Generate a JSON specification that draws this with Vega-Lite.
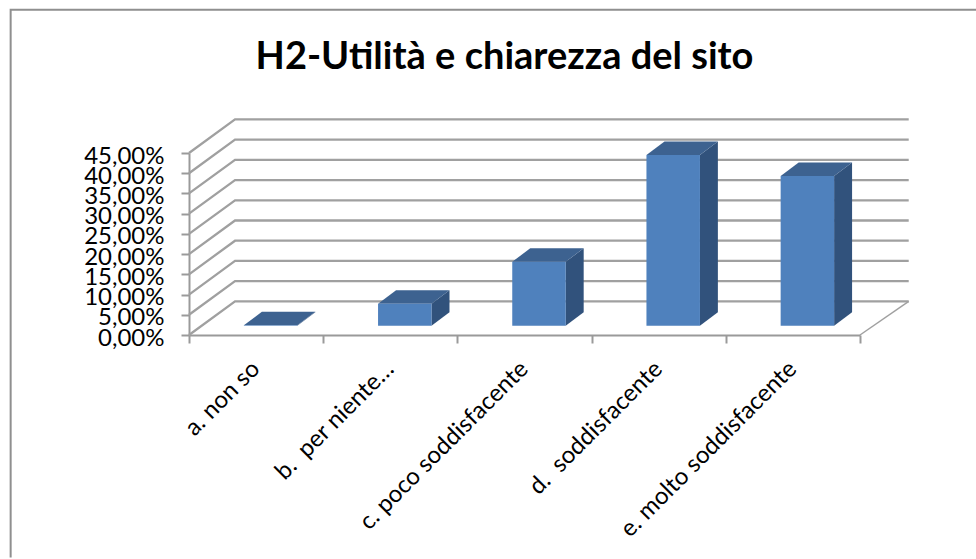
{
"$schema":"https://vega.github.io/schema/vega-lite/v6.json",
"width":671,"height":182,
"autosize":{"type":"none"},
"padding":{"left":189,"top":153,"right":116,"bottom":224},
"background":"white",
"config":{"view":{"stroke":null},"font":"Lato"},
"title":{"text":"H2-Utilità e chiarezza del sito","font":"Lato","fontSize":38,"fontWeight":"bold","color":"#000000","anchor":"middle","frame":"group","dx":-20,"offset":-71},
"datasets":{
"bars":[
{"idx":0,"category":"a. non so","value":0.1},
{"idx":1,"category":"b. \u00a0per niente…","value":5.4},
{"idx":2,"category":"c. poco soddisfacente","value":15.8},
{"idx":3,"category":"d. \u00a0soddisfacente","value":42.2},
{"idx":4,"category":"e. molto soddisfacente","value":37.0}],
"ticks":[{"tick":0},{"tick":5},{"tick":10},{"tick":15},{"tick":20},{"tick":25},{"tick":30},{"tick":35},{"tick":40},{"tick":45}],
"frame":[{"order":1,"fx":-1.329,"fy":-55},{"order":2,"fx":-1.329,"fy":80.4},{"order":3,"fx":5.95,"fy":80.4}],
"floor":[{"order":1,"fx":5,"fy":0},{"order":2,"fx":5.363,"fy":8.31}]
},
"layer":[
{"data":{"name":"frame"},"mark":{"type":"line","stroke":"#8f8f8f","strokeWidth":2,"clip":false},
"encoding":{"x":{"field":"fx","type":"quantitative","scale":{"domain":[0,5],"nice":false,"zero":false},"axis":{"orient":"bottom","values":[0,1,2,3,4,5],"labels":false,"title":null,"grid":false,"tickSize":8,"tickColor":"#9a9a9a","tickWidth":2,"domainColor":"#9a9a9a","domainWidth":2}},
"y":{"field":"fy","type":"quantitative","title":null,"scale":{"domain":[0,45],"nice":false,"zero":false},"axis":{"orient":"left","values":[0,5,10,15,20,25,30,35,40,45],"labelExpr":"replace(format(datum.value,'.2f'),'.',',')+'%'","labelFont":"Lato","labelFontSize":24,"labelColor":"#000000","labelPadding":17,"labelOffset":3,"labelOverlap":false,"labelBound":false,"labelFlush":false,"title":null,"grid":false,"tickSize":8,"tickColor":"#9a9a9a","tickWidth":2,"domainColor":"#9a9a9a","domainWidth":2}},
"order":{"field":"order"}}},
{"data":{"name":"ticks"},
"transform":[{"calculate":"[0,1,2]","as":"t"},{"flatten":["t"]},{"calculate":"[0,0.343,5.363][datum.t]","as":"fx"},{"calculate":"datum.tick+(datum.t>0?8.31:0)","as":"fy"}],
"mark":{"type":"line","stroke":"#a0a0a0","strokeWidth":2.3,"clip":false},
"encoding":{"x":{"field":"fx","type":"quantitative","scale":{"domain":[0,5],"nice":false,"zero":false},"axis":null},"y":{"field":"fy","type":"quantitative","axis":null},"detail":{"field":"tick"},"order":{"field":"t"}}},
{"data":{"name":"floor"},"mark":{"type":"line","stroke":"#a0a0a0","strokeWidth":1.5,"clip":false},
"encoding":{"x":{"field":"fx","type":"quantitative","scale":{"domain":[0,5],"nice":false,"zero":false},"axis":null},"y":{"field":"fy","type":"quantitative","axis":null},"order":{"field":"order"}}},
{"data":{"name":"bars"},
"transform":[{"calculate":"[0,1]","as":"t"},{"flatten":["t"]},{"calculate":"datum.idx+0.807+0.134*datum.t","as":"fx"},{"calculate":"2.3+3.34*datum.t","as":"lo"},{"calculate":"2.3+datum.value+3.34*datum.t","as":"hi"}],
"mark":{"type":"area","color":"#31527c","clip":false},
"encoding":{"x":{"field":"fx","type":"quantitative","scale":{"domain":[0,5],"nice":false,"zero":false},"axis":null},"y":{"field":"lo","type":"quantitative","axis":null},"y2":{"field":"hi"},"detail":{"field":"category"}}},
{"data":{"name":"bars"},
"transform":[{"calculate":"[0,1,2,3]","as":"t"},{"flatten":["t"]},{"calculate":"datum.idx+[0.409,0.543,0.807,0.941][datum.t]","as":"fx"},{"calculate":"2.3+datum.value+(datum.t==3?3.34:0)","as":"lo"},{"calculate":"2.3+datum.value+(datum.t==0?0:3.34)","as":"hi"}],
"mark":{"type":"area","color":"#3d6290","clip":false},
"encoding":{"x":{"field":"fx","type":"quantitative","scale":{"domain":[0,5],"nice":false,"zero":false},"axis":null},"y":{"field":"lo","type":"quantitative","axis":null},"y2":{"field":"hi"},"detail":{"field":"category"}}},
{"data":{"name":"bars"},
"transform":[{"calculate":"2.3","as":"lo"},{"calculate":"2.3+datum.value","as":"hi"}],
"mark":{"type":"bar","color":"#4f81bd","size":53.5,"xOffset":14.5,"clip":false},
"encoding":{"x":{"field":"category","type":"nominal","sort":null,"scale":{"paddingInner":0,"paddingOuter":0},"axis":{"orient":"bottom","title":null,"ticks":false,"domain":false,"grid":false,"labelAngle":-45,"labelAlign":"right","labelBaseline":"middle","labelFont":"Lato","labelFontSize":24,"labelColor":"#000000","labelPadding":30,"labelLimit":400}},
"y":{"field":"lo","type":"quantitative","axis":null},"y2":{"field":"hi"}}}
],
"resolve":{"scale":{"x":"independent"},"axis":{"y":"independent"}}
}
